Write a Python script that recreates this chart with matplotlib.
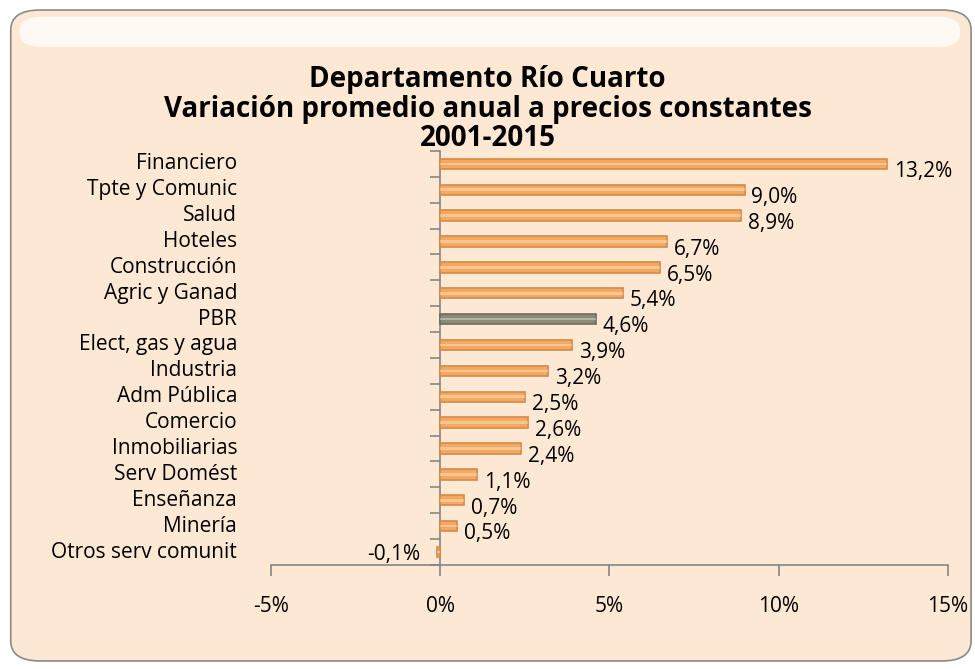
import matplotlib.pyplot as plt
import numpy as np
from matplotlib.patches import FancyBboxPatch
from matplotlib.transforms import blended_transform_factory

plt.rcParams['font.family'] = ['Open Sans', 'DejaVu Sans']

sectores = ["Financiero", "Tpte y Comunic", "Salud", "Hoteles", "Construcción",
            "Agric y Ganad", "PBR", "Elect, gas y agua", "Industria", "Adm Pública",
            "Comercio", "Inmobiliarias", "Serv Domést", "Enseñanza", "Minería",
            "Otros serv comunit"]
variacion = [13.2, 9.0, 8.9, 6.7, 6.5, 5.4, 4.6, 3.9, 3.2, 2.5, 2.6, 2.4, 1.1, 0.7, 0.5, -0.1]
etiquetas = ["13,2%", "9,0%", "8,9%", "6,7%", "6,5%", "5,4%", "4,6%", "3,9%", "3,2%",
             "2,5%", "2,6%", "2,4%", "1,1%", "0,7%", "0,5%", "-0,1%"]

fig = plt.figure(figsize=(9.75, 6.69), dpi=100)
fig.patch.set_facecolor('white')

# fondo redondeado
fondo = FancyBboxPatch((0.011, 0.012), 0.985, 0.973, boxstyle="round,pad=0,rounding_size=0.03",
                       transform=fig.transFigure, facecolor='#FDE8D3', edgecolor='#8a8a8a',
                       linewidth=1.2, zorder=-2)
fig.patches.append(fondo)
brillo = FancyBboxPatch((0.02, 0.93), 0.965, 0.045, boxstyle="round,pad=0,rounding_size=0.022",
                        transform=fig.transFigure, facecolor='white', edgecolor='none',
                        alpha=0.75, zorder=-1)
fig.patches.append(brillo)

ax = fig.add_axes([0.278, 0.1555, 0.694, 0.619])
ax.set_zorder(2)
ax.set_facecolor('none')

y = np.arange(len(sectores))
colores = ['#8C8A76' if s == "PBR" else '#F5A95E' for s in sectores]
bordes = ['#6E6C5C' if s == "PBR" else '#D48A4A' for s in sectores]
ax.barh(y, variacion, height=0.4, color=colores, edgecolor=bordes, linewidth=1.2, zorder=3)
# brillo central de las barras
ax.barh(y, variacion, height=0.1, color='white', alpha=0.35, zorder=4)

ax.set_xlim(-5, 15)
ax.set_ylim(len(sectores) - 0.5, -0.5)

ax.set_xticks([-5, 0, 5, 10, 15])
ax.set_xticklabels(["-5%", "0%", "5%", "10%", "15%"], fontsize=15)
ax.tick_params(axis='x', length=8, width=1.2, color='#868686', pad=14)

ax.spines['left'].set_position(('data', 0))
for s in ['top', 'right']:
    ax.spines[s].set_visible(False)
for s in ['left', 'bottom']:
    ax.spines[s].set_color('#868686')
    ax.spines[s].set_linewidth(1.2)

ax.set_yticks([])
ax.set_yticks(np.arange(len(sectores) + 1) - 0.5, minor=True)
ax.tick_params(axis='y', which='minor', length=7, width=1.2, color='#868686')
ax.set_yticklabels([], minor=True)

trans = blended_transform_factory(ax.transAxes, ax.transData)
for yi, s in zip(y, sectores):
    ax.text(-0.05, yi, s, transform=trans, ha='right', va='center', fontsize=15)

for yi, v, t in zip(y, variacion, etiquetas):
    if v >= 0:
        ax.text(v + 0.2, yi + 0.3, t, ha='left', va='center', fontsize=15)
    else:
        ax.text(v - 0.5, yi + 0.1, t, ha='right', va='center', fontsize=15)

fig.text(0.5, 0.837, "Departamento Río Cuarto\nVariación promedio anual a precios constantes\n2001-2015",
         ha='center', va='center', fontsize=20, fontweight='bold', linespacing=1.02)

fig.savefig("out.png", dpi=100, facecolor='white')
